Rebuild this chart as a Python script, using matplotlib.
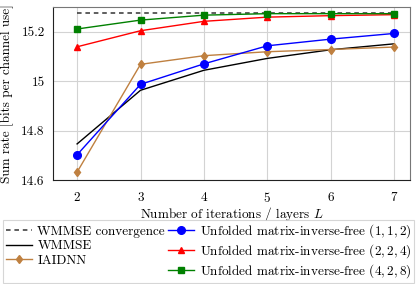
import matplotlib
matplotlib.use("Agg")
import matplotlib.pyplot as plt

# === DATA ===
layers = [2, 3, 4, 5, 6, 7]
wmmse_conv = [15.275, 15.275, 15.275, 15.275, 15.275, 15.275]
wmmse = [14.746, 14.963, 15.044, 15.092, 15.127, 15.151]
iaidnn = [14.632, 15.068, 15.103, 15.119, 15.128, 15.138]
unf_112 = [14.702, 14.987, 15.070, 15.143, 15.170, 15.193]
unf_224 = [15.139, 15.204, 15.242, 15.259, 15.265, 15.269]
unf_428 = [15.211, 15.247, 15.267, 15.273, 15.273, 15.273]

yticks = [14.6, 14.8, 15.0, 15.2]
ytick_labels = ["14.6", "14.8", "15", "15.2"]

# === STYLE ===
plt.rcParams["font.family"] = ["cmr10", "DejaVu Serif"]
plt.rcParams["mathtext.fontset"] = "cm"
plt.rcParams["axes.formatter.use_mathtext"] = True
plt.rcParams["font.size"] = 9.5

fig = plt.figure(figsize=(4.19, 2.84), dpi=100)
ax = fig.add_axes([53 / 419, 1 - 180 / 284, (410 - 53) / 419, (180 - 7) / 284])

ax.plot(layers, wmmse_conv, color="#333333", ls=(0, (3, 2.5)), lw=1.1, label="WMMSE convergence")
ax.plot(layers, wmmse, color="black", lw=1.0, label="WMMSE")
ax.plot(layers, iaidnn, color="#BF8040", lw=1.0, marker="d", ms=4.5, label="IAIDNN")
ax.plot(layers, unf_112, color="blue", lw=1.0, marker="o", ms=5.5,
        label="Unfolded matrix-inverse-free $(1,1,2)$")
ax.plot(layers, unf_224, color="red", lw=1.0, marker="^", ms=5,
        label="Unfolded matrix-inverse-free $(2,2,4)$")
ax.plot(layers, unf_428, color="#008000", lw=1.0, marker="s", ms=4.5,
        label="Unfolded matrix-inverse-free $(4,2,8)$")

ax.set_xlim(1.62, 7.25)
ax.set_ylim(14.6, 15.30)
ax.set_xticks(layers)
ax.set_yticks(yticks)
ax.set_yticklabels(ytick_labels)
ax.tick_params(axis="x", length=0, pad=8, labelsize=9.5)
ax.tick_params(axis="y", length=0, pad=6, labelsize=9.5)
ax.grid(True, color="#d3d3d3", lw=0.8)
ax.set_axisbelow(True)
for s in ["top", "right"]:
    ax.spines[s].set_color("#777777")
for s in ["left", "bottom"]:
    ax.spines[s].set_color("#222222")

ax.set_xlabel("Number of iterations / layers $L$", labelpad=0)
ax.set_ylabel("Sum rate [bits per channel use]", labelpad=5)

leg = fig.legend(loc="lower left", bbox_to_anchor=(3 / 419, 1 / 284, 411 / 419, 61 / 284),
                 mode="expand", ncol=2, frameon=True, fancybox=False,
                 edgecolor="#cccccc", handlelength=2.0, handletextpad=0.4,
                 columnspacing=0.1, labelspacing=0.18, borderpad=0.2,
                 borderaxespad=0, fontsize=9.5)
leg.get_frame().set_linewidth(0.8)

fig.savefig("out.png", dpi=100)
